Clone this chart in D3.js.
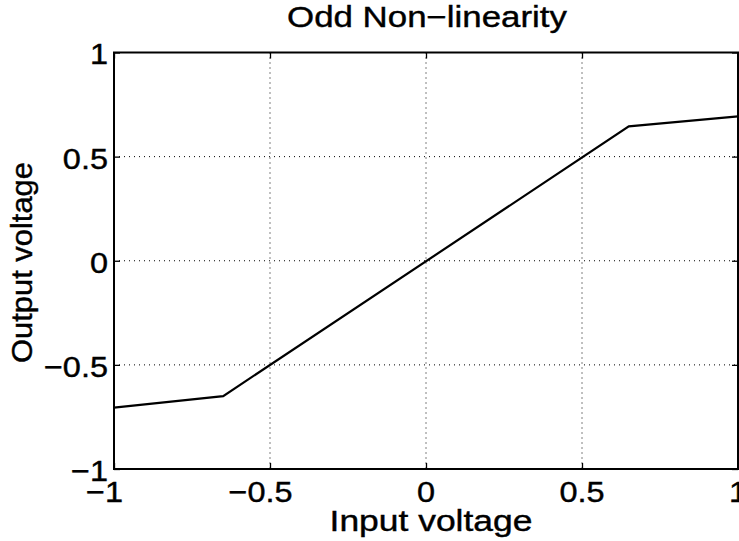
<!DOCTYPE html>
<html><head><meta charset="utf-8">
<script src="https://cdn.jsdelivr.net/npm/d3@7"></script>
<style>body{margin:0;background:#fff}svg{display:block}text{font-family:"Liberation Sans",Arial,sans-serif;fill:#000;stroke:#000;stroke-width:0.4px}</style>
</head><body>
<script>
const xData = [-1, -0.65, 0.65, 1];
const yData = [-0.705, -0.65, 0.645, 0.693];
const xTicks = [-1, -0.5, 0, 0.5, 1];
const yTicks = [-1, -0.5, 0, 0.5, 1];
const tickLabels = ["\u22121", "\u22120.5", "0", "0.5", "1"];
const title = "Odd Non\u2212linearity";
const xLabel = "Input voltage";
const yLabel = "Output voltage";

const W = 739, H = 541;
const L = 114, R = 738, T = 52.5, B = 469;
const fs = 29, tickSX = 1.12;
const svg = d3.select("body").append("svg").attr("width", W).attr("height", H);
const x = d3.scaleLinear().domain([-1, 1]).range([L, R]);
const y = d3.scaleLinear().domain([-1, 1]).range([B, T]);

function measure(str) {
  const t = svg.append("text").style("font-size", fs + "px").text(str);
  const w = t.node().getComputedTextLength();
  t.remove();
  return w;
}

// grid
const g = svg.append("g").attr("stroke", "#000").attr("stroke-width", 1).attr("stroke-dasharray", "1,4");
xTicks.slice(1, -1).forEach(v => g.append("line").attr("x1", x(v)).attr("x2", x(v)).attr("y1", T).attr("y2", B));
yTicks.slice(1, -1).forEach(v => g.append("line").attr("y1", y(v)).attr("y2", y(v)).attr("x1", L).attr("x2", R));

// tick marks via d3 axes (inward)
const ax = svg.append("g").attr("transform", `translate(0,${B})`).call(d3.axisBottom(x).tickValues(xTicks).tickSize(-6).tickFormat(""));
const axT = svg.append("g").attr("transform", `translate(0,${T})`).call(d3.axisTop(x).tickValues(xTicks).tickSize(-6).tickFormat(""));
const ay = svg.append("g").attr("transform", `translate(${L},0)`).call(d3.axisLeft(y).tickValues(yTicks).tickSize(-6).tickFormat(""));
const ayR = svg.append("g").attr("transform", `translate(${R},0)`).call(d3.axisRight(y).tickValues(yTicks).tickSize(-6).tickFormat(""));
[ax, axT, ay, ayR].forEach(a => {
  a.select(".domain").remove();
  a.selectAll("line").attr("stroke", "#000").attr("stroke-width", 1.3);
});

// x tick labels: number centred on tick, minus sign hanging to the left
xTicks.forEach((v, i) => {
  const lab = tickLabels[i];
  const abs = lab.replace("\u2212", "");
  const wa = measure(abs) * tickSX;
  svg.append("text").attr("transform", `translate(${x(v) + wa / 2},502) scale(${tickSX},1)`)
    .attr("text-anchor", "end").style("font-size", fs + "px").text(lab);
});
// y tick labels: right aligned
yTicks.forEach((v, i) => {
  svg.append("text").attr("transform", `translate(108,${y(v) + 1.5}) scale(${tickSX},1)`)
    .attr("text-anchor", "end").attr("dy", "0.36em").style("font-size", fs + "px").text(tickLabels[i]);
});

// box
svg.append("rect").attr("x", L).attr("y", T).attr("width", R - L).attr("height", B - T)
  .attr("fill", "none").attr("stroke", "#000").attr("stroke-width", 2);

// curve
svg.append("path").datum(xData.map((v, i) => [v, yData[i]]))
  .attr("d", d3.line().x(d => x(d[0])).y(d => y(d[1])))
  .attr("fill", "none").attr("stroke", "#000").attr("stroke-width", 2.2);

function stretched(str, cx, cy, target, rot) {
  const sx = target / measure(str);
  svg.append("text").attr("transform", `translate(${cx},${cy})${rot ? " rotate(-90)" : ""} scale(${sx},1)`)
    .attr("text-anchor", "middle").style("font-size", fs + "px").text(str);
}
stretched(title, 427, 27, 280, false);
stretched(xLabel, 431, 531, 203, false);
stretched(yLabel, 32, 262.5, 201, true);
</script>
</body></html>
